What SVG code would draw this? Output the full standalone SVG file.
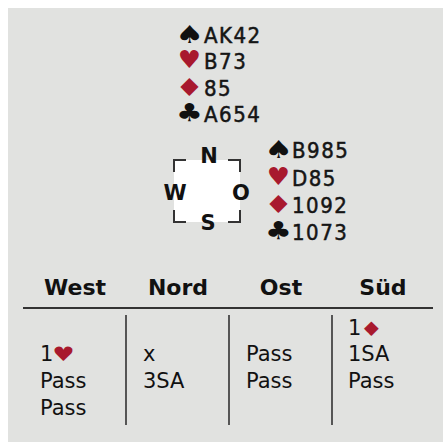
<svg xmlns="http://www.w3.org/2000/svg" width="443" height="442" viewBox="0 0 443 442">
<style>
.hand{font-family:"DejaVu Sans Condensed","DejaVu Sans",sans-serif;font-size:22px;fill:#151515;stroke:#151515;stroke-width:0.5px;letter-spacing:1.5px}
.suit{font-family:"DejaVu Sans",sans-serif;font-size:23px;text-anchor:middle}
.tsuit{font-family:"DejaVu Sans",sans-serif;font-size:20px;text-anchor:middle}
.blk{fill:#111}
.red{fill:#a8192e}
.cmp{font-family:"DejaVu Sans",sans-serif;font-weight:bold;font-size:21px;fill:#111;text-anchor:middle}
.hdr{font-family:"DejaVu Sans",sans-serif;font-weight:bold;font-size:22px;fill:#111;text-anchor:middle}
.bid{font-family:"DejaVu Sans",sans-serif;font-size:21px;fill:#111}
.ln{stroke:#333;fill:none}
</style>
<rect x="0" y="0" width="443" height="442" fill="#ffffff"/>
<rect x="8" y="8" width="435" height="434" fill="#e1e2e0"/>

<g id="north-hand">
<text class="suit blk" transform="translate(189.5,43) scale(1.4,1.08)">♠</text><text class="hand" x="204" y="43">AK42</text>
<text class="suit red" transform="translate(189.5,68) scale(1.13,1.08)">♥</text><text class="hand" x="204" y="69">B73</text>
<text class="suit red" transform="translate(189.5,96) scale(1.4,1.08)">♦</text><text class="hand" x="204" y="96">85</text>
<text class="suit blk" transform="translate(189.5,121) scale(1.3,1.08)">♣</text><text class="hand" x="204" y="122">A654</text>
</g>

<g id="east-hand">
<text class="suit blk" transform="translate(278.5,158) scale(1.4,1.08)">♠</text><text class="hand" x="292" y="158">B985</text>
<text class="suit red" transform="translate(278.5,185) scale(1.13,1.08)">♥</text><text class="hand" x="292" y="186">D85</text>
<text class="suit red" transform="translate(278.5,213) scale(1.4,1.08)">♦</text><text class="hand" x="292" y="213">1092</text>
<text class="suit blk" transform="translate(278.5,239) scale(1.3,1.08)">♣</text><text class="hand" x="292" y="240">1073</text>
</g>

<g id="compass">
<rect x="174" y="160" width="66" height="62" fill="#ffffff"/>
<path class="ln" stroke-width="2" d="M174,172V160H186M228,160H240V172M174,210V222H186M228,222H240V210"/>
<text class="cmp" x="209" y="163">N</text>
<text class="cmp" x="175" y="200">W</text>
<text class="cmp" x="241" y="200">O</text>
<text class="cmp" x="208" y="230">S</text>
</g>

<g id="bidding-table">
<text class="hdr" x="75" y="295">West</text>
<text class="hdr" x="178" y="295">Nord</text>
<text class="hdr" x="281" y="295">Ost</text>
<text class="hdr" x="383" y="295">Süd</text>
<text class="bid" x="348" y="335">1</text>
<text class="tsuit red" transform="translate(371.5,336) scale(1.3,1)">♦</text>
<text class="bid" x="40" y="361">1</text>
<text class="tsuit red" transform="translate(63.5,361) scale(1.25,1)">♥</text>
<text class="bid" x="143" y="361">x</text>
<text class="bid" x="246" y="361">Pass</text>
<text class="bid" x="348" y="361">1SA</text>
<text class="bid" x="40" y="388">Pass</text>
<text class="bid" x="143" y="388">3SA</text>
<text class="bid" x="246" y="388">Pass</text>
<text class="bid" x="348" y="388">Pass</text>
<text class="bid" x="40" y="415">Pass</text>
</g>

<g id="connectors">
<line class="ln" stroke-width="2" x1="23" y1="308" x2="433" y2="308"/>
<line class="ln" stroke-width="1.6" x1="126" y1="315" x2="126" y2="425"/>
<line class="ln" stroke-width="1.6" x1="229" y1="315" x2="229" y2="425"/>
<line class="ln" stroke-width="1.6" x1="332" y1="315" x2="332" y2="425"/>
</g>
</svg>
